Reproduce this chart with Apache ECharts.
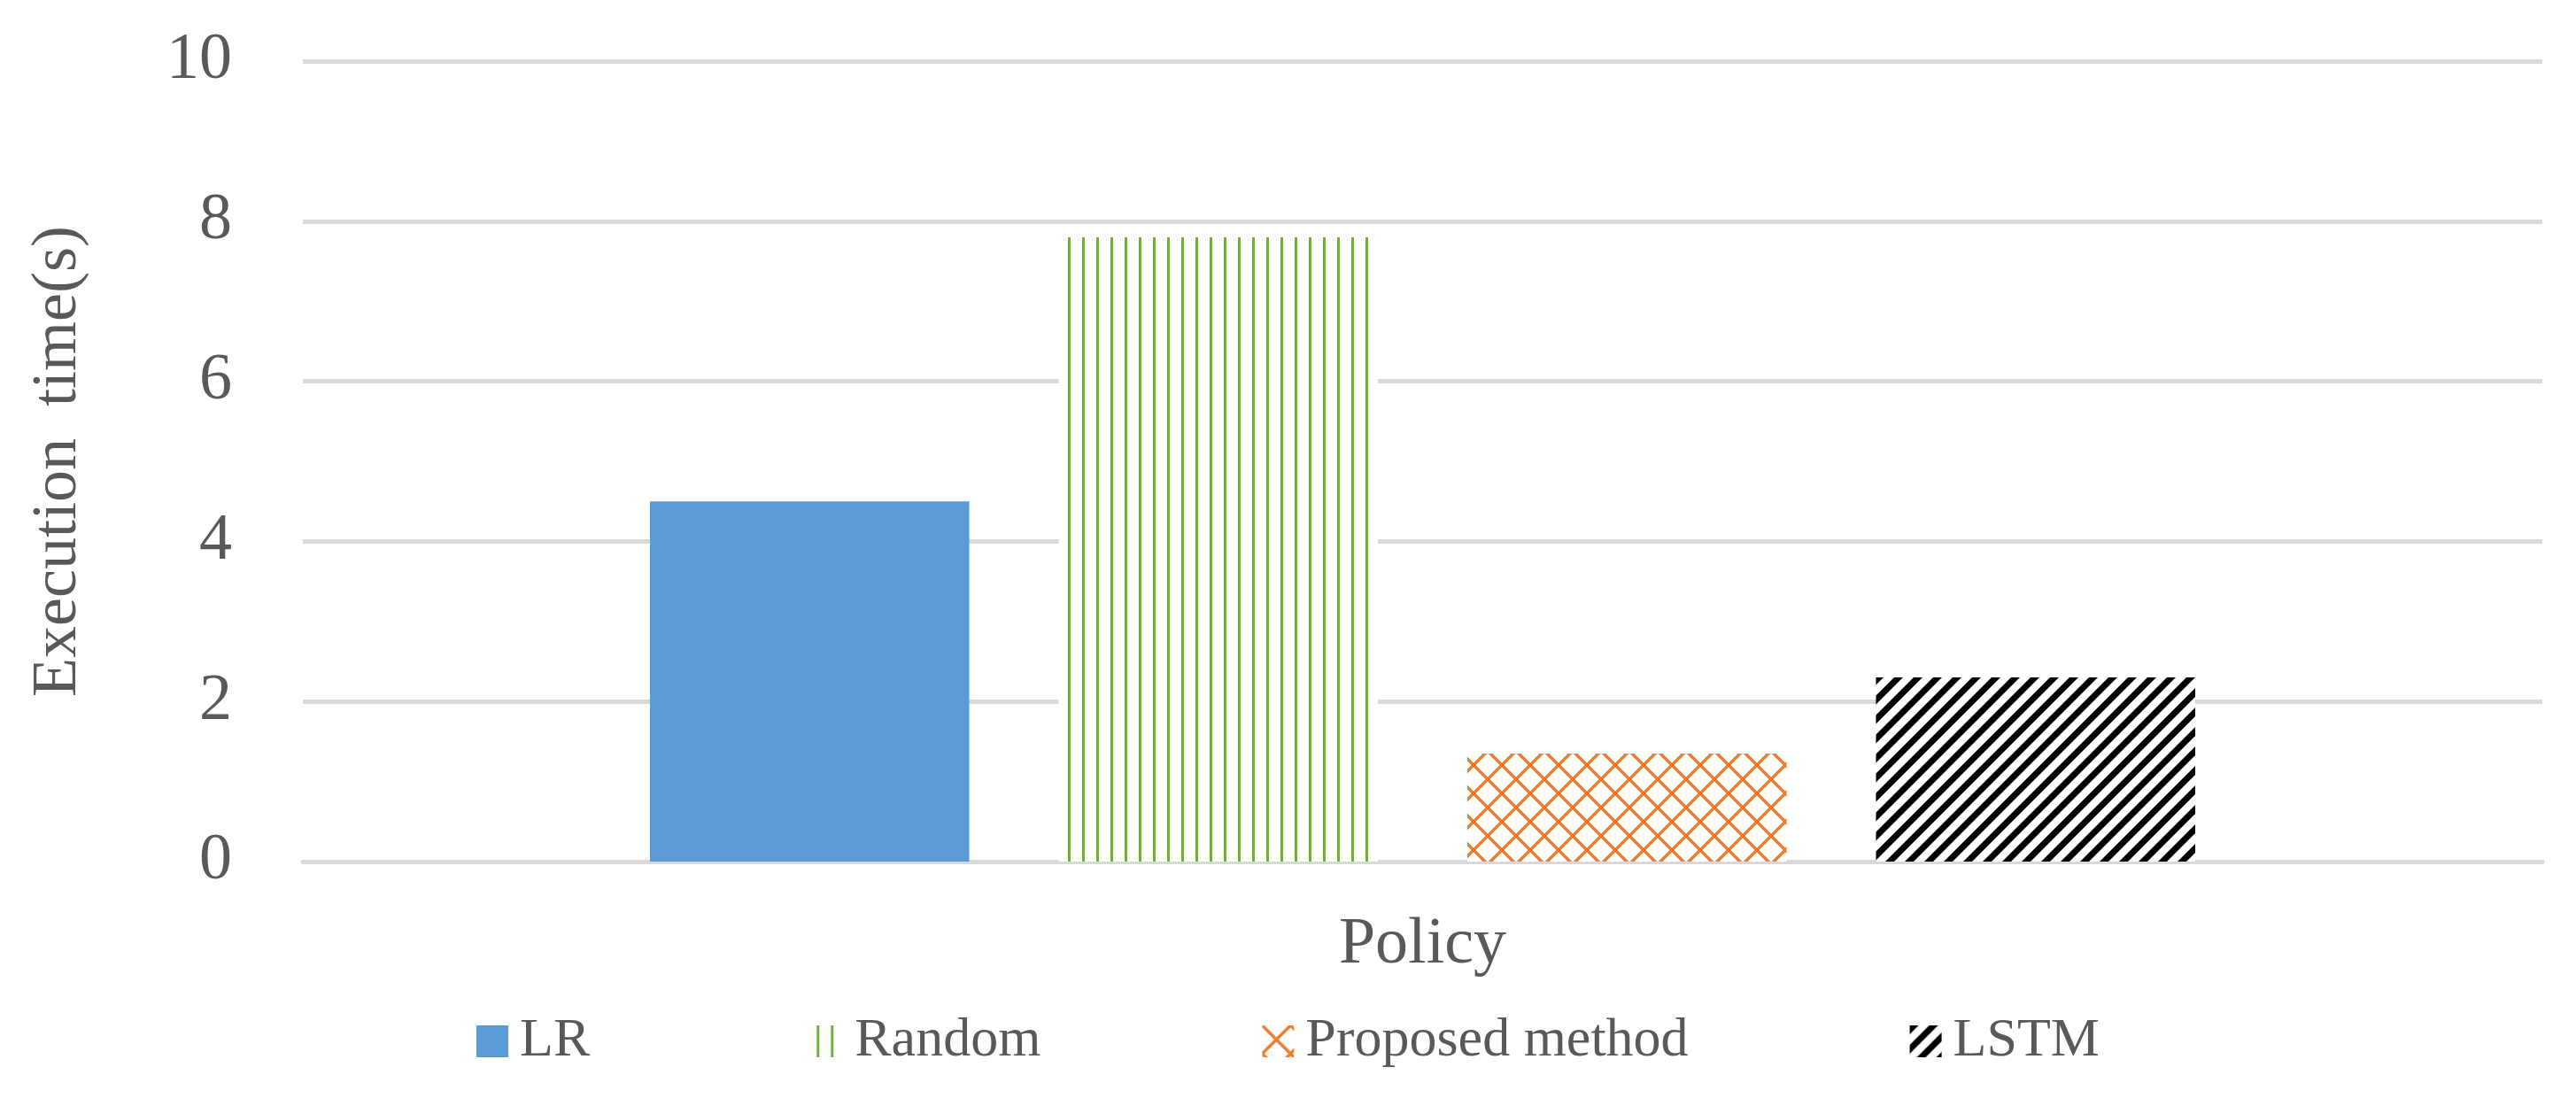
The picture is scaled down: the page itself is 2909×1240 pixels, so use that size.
<!DOCTYPE html>
<html><head><meta charset="utf-8">
<script src="https://cdn.jsdelivr.net/npm/echarts@6/dist/echarts.min.js"></script>
<style>html,body{margin:0;padding:0;background:#fff}#c{width:2909px;height:1240px}</style>
</head><body><div id="c"></div>
<script>
const categories = ['Policy'];
const seriesNames = ['LR', 'Random', 'Proposed method', 'LSTM'];
const seriesValues = [4.5, 7.8, 1.35, 2.3];
const yTicks = [0, 2, 4, 6, 8, 10];

function mk(w, h, draw) {
  const c = document.createElement('canvas'); c.width = w; c.height = h;
  const g = c.getContext('2d'); g.fillStyle = '#fff'; g.fillRect(0, 0, w, h); draw(g); return c;
}
const vLines = mk(16, 16, g => { g.fillStyle = '#70ad47'; g.fillRect(6, 0, 3, 16); });
const lattice = mk(32, 32, g => {
  g.strokeStyle = '#ed7d31'; g.lineWidth = 3.5;
  g.beginPath();
  for (let k = -32; k <= 64; k += 32) {
    g.moveTo(k, 0); g.lineTo(k + 32, 32);
    g.moveTo(k, 32); g.lineTo(k + 32, 0);
  }
  g.stroke();
});
const diag = mk(22, 22, g => {
  g.fillStyle = '#000';
  for (let k = -22; k <= 44; k += 22) {
    g.beginPath();
    g.moveTo(k, 22); g.lineTo(k + 10, 22); g.lineTo(k + 32, 0); g.lineTo(k + 22, 0); g.closePath();
    g.fill();
  }
});
const fills = ['#5b9bd5',
  { image: vLines, repeat: 'repeat' },
  { image: lattice, repeat: 'repeat' },
  { image: diag, repeat: 'repeat' }];

const font = 'Liberation Serif';
const chart = echarts.init(document.getElementById('c'));
chart.setOption({
  animation: false,
  grid: { left: 342, right: 38, top: 69, bottom: 267 },
  legend: {
    bottom: 28, left: 'center', itemWidth: 36, itemHeight: 36, itemGap: 250,
    icon: 'rect',
    textStyle: { fontFamily: font, fontSize: 62, color: '#595959', padding: [0, 0, 0, 8] },
    data: seriesNames.map((n, i) => ({ name: n, itemStyle: { color: fills[i] } }))
  },
  xAxis: {
    type: 'category', data: categories,
    name: 'Policy', nameLocation: 'middle', nameGap: 58,
    nameTextStyle: { fontFamily: font, fontSize: 74, color: '#595959' },
    axisLine: { lineStyle: { color: '#d9d9d9', width: 5 } },
    axisTick: { show: false }, axisLabel: { show: false }
  },
  yAxis: {
    type: 'value', min: yTicks[0], max: yTicks[yTicks.length - 1], interval: 2,
    name: 'Execution  time(s)', nameLocation: 'middle', nameGap: 240,
    nameTextStyle: { fontFamily: font, fontSize: 72, color: '#595959' },
    axisLabel: { fontFamily: font, fontSize: 74, color: '#595959', margin: 80 },
    splitLine: { lineStyle: { color: '#d9d9d9', width: 5 } },
    axisLine: { show: false }, axisTick: { show: false }
  },
  series: seriesNames.map((n, i) => ({
    name: n, type: 'bar', data: [seriesValues[i]],
    barGap: '28%', barCategoryGap: '31%',
    itemStyle: { color: fills[i] }
  }))
});
</script></body></html>
